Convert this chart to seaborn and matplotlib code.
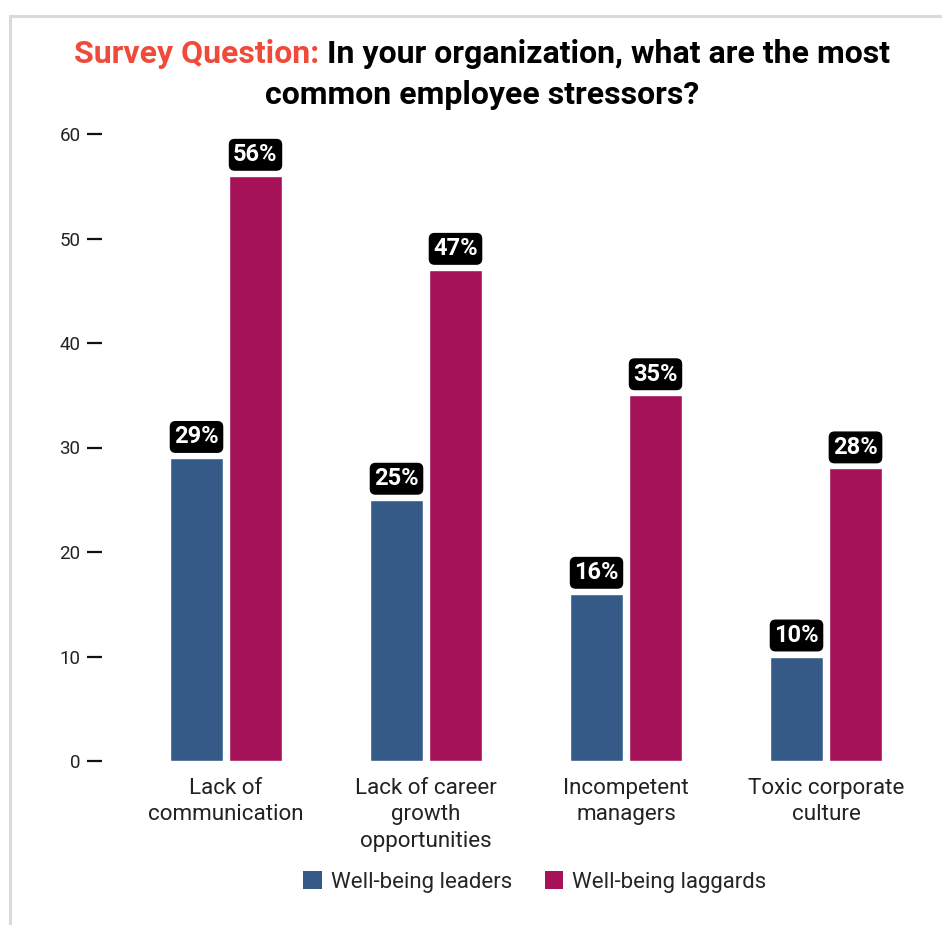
import matplotlib
matplotlib.use("Agg")
import matplotlib.pyplot as plt
from matplotlib.lines import Line2D
from matplotlib.patches import Patch
import seaborn as sns
import pandas as pd

# Survey results (% of respondents)
categories = [
    "Lack of\ncommunication",
    "Lack of career\ngrowth\nopportunities",
    "Incompetent\nmanagers",
    "Toxic corporate\nculture",
]
series_names = ["Well-being leaders", "Well-being laggards"]
leaders = [29, 25, 16, 10]
laggards = [56, 47, 35, 28]
y_ticks = [0, 10, 20, 30, 40, 50, 60]

colors = ["#365A88", "#A51257"]

df = pd.DataFrame({
    "category": categories * 2,
    "group": [series_names[0]] * len(categories) + [series_names[1]] * len(categories),
    "value": leaders + laggards,
})

sns.set_theme(style="white")
plt.rcParams["font.family"] = ["Roboto", "DejaVu Sans"]

W, H = 942, 925
fig = plt.figure(figsize=(W / 100, H / 100), dpi=100)
fig.patch.set_facecolor("white")

ax_left, ax_right = 102 / W, 926 / W
ax_bottom, ax_top = 1 - 761 / H, 1 - 134 / H
ax = fig.add_axes([ax_left, ax_bottom, ax_right - ax_left, ax_top - ax_bottom])

sns.barplot(
    data=df, x="category", y="value", hue="group",
    hue_order=series_names, order=categories,
    palette=colors, width=0.59, gap=0.1, saturation=1,
    legend=False, ax=ax,
)

ax.set_xlim(-0.62, 3.5)
ax.set_ylim(0, 60)
ax.set_yticks(y_ticks)
ax.set_yticklabels([str(t) for t in y_ticks], fontsize=13.5, color="#222222")
ax.tick_params(axis="y", left=True, length=10.5, width=1.6, color="#111111", pad=5)
ax.tick_params(axis="x", bottom=False, pad=6)
for lbl in ax.get_xticklabels():
    lbl.set_fontsize(16.1)
    lbl.set_color("#222222")
    lbl.set_multialignment("center")
    lbl.set_linespacing(1.34)
ax.set_xlabel("")
ax.set_ylabel("")
for s in ax.spines.values():
    s.set_visible(False)

# value badges above each bar
for container in ax.containers:
    for bar in container:
        h = bar.get_height()
        ax.annotate(
            f"{h:.0f}%",
            xy=(bar.get_x() + bar.get_width() / 2, h),
            xytext=(0, 21), textcoords="offset pixels",
            ha="center", va="center", fontsize=17, fontweight="bold",
            color="white", annotation_clip=False,
            bbox=dict(boxstyle="round,pad=0.16,rounding_size=0.22",
                      fc="black", ec="black"),
        )

# legend
handles = [Patch(facecolor=c, edgecolor="none") for c in colors]
fig.legend(
    handles, series_names, loc="center", bbox_to_anchor=(535 / W, 1 - 882 / H),
    ncol=2, frameon=False, fontsize=16, handlelength=0.82, handleheight=0.82,
    handletextpad=0.4, columnspacing=1.5,
)

# two-tone title
fig.canvas.draw()
renderer = fig.canvas.get_renderer()
title_size = 23
part_red = "Survey Question:"
part_black = " In your organization, what are the most"
line2 = "common employee stressors?"
t_red = fig.text(0, 0, part_red, fontsize=title_size, fontweight="bold", color="#F04A3A")
t_blk = fig.text(0, 0, part_black, fontsize=title_size, fontweight="bold", color="black")
w_red = t_red.get_window_extent(renderer).width
w_blk = t_blk.get_window_extent(renderer).width
x0 = (482 - (w_red + w_blk) / 2)
y1 = 1 - 54 / H
t_red.set_position((x0 / W, y1))
t_red.set_va("center")
t_blk.set_position(((x0 + w_red) / W, y1))
t_blk.set_va("center")
fig.text(482 / W, 1 - 95 / H, line2, fontsize=title_size, fontweight="bold",
         color="black", ha="center", va="center")

# card frame on top and left edges
frame_col = "#DDD8D8"
fig.add_artist(Line2D([10 / W, 1], [1 - 16 / H, 1 - 16 / H], color=frame_col, lw=2.2))
fig.add_artist(Line2D([10 / W, 10 / W], [0, 1 - 16 / H], color=frame_col, lw=2.2))

fig.savefig("out.png", dpi=100, facecolor="white")
